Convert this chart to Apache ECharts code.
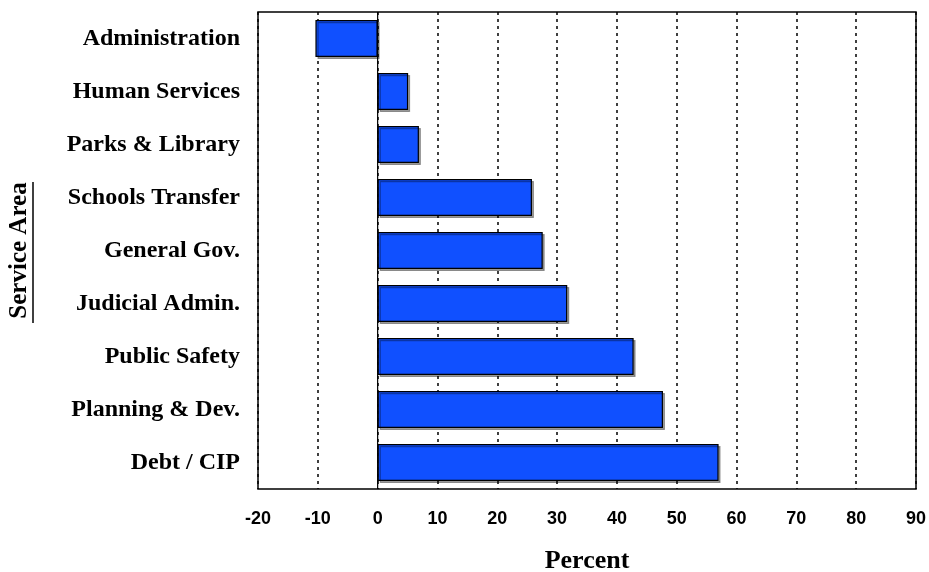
<!DOCTYPE html>
<html>
<head>
<meta charset="utf-8">
<script src="https://cdn.jsdelivr.net/npm/echarts@6/dist/echarts.min.js"></script>
<style>html,body{margin:0;padding:0;background:#fff;}#c{width:929px;height:572px;}</style>
</head>
<body>
<div id="c"></div>
<script>
const categories = ['Administration','Human Services','Parks & Library','Schools Transfer','General Gov.','Judicial Admin.','Public Safety','Planning & Dev.','Debt / CIP'];
const values = [-10.4, 5.1, 6.9, 25.8, 27.6, 31.7, 42.8, 47.7, 57.0];
const xMin = -20, xMax = 90, xStep = 10;
const zeroLine = [0];

const chart = echarts.init(document.getElementById('c'), null, {renderer:'canvas'});
chart.setOption({
  backgroundColor: '#fff',
  animation: false,
  grid: {left: 258, top: 12, right: 13, bottom: 83, show: true, borderColor: '#000', borderWidth: 1.5, outerBoundsMode: 'none', containLabel: false},
  xAxis: {
    type: 'value', min: xMin, max: xMax, interval: xStep,
    axisLine: {show: false}, axisTick: {show: false},
    splitLine: {show: true, lineStyle: {color: '#000', width: 1.5, type: [3, 4]}},
    axisLabel: {color: '#000', fontFamily: 'Liberation Sans, Arial', fontWeight: 'bold', fontSize: 18, margin: 21},
    name: 'Percent', nameLocation: 'middle', nameGap: 59,
    nameTextStyle: {color: '#000', fontFamily: 'Liberation Serif, Times New Roman', fontWeight: 'bold', fontSize: 26}
  },
  yAxis: {
    type: 'category', data: categories, inverse: true,
    axisLine: {show: false}, axisTick: {show: false},
    axisLabel: {color: '#000', fontFamily: 'Liberation Serif, Times New Roman', fontWeight: 'bold', fontSize: 24, margin: 18},
    name: 'Service Area', nameLocation: 'middle', nameGap: 226, nameRotate: 90,
    nameTextStyle: {color: '#000', fontFamily: 'Liberation Serif, Times New Roman', fontWeight: 'bold', fontSize: 25}
  },
  series: [{
    type: 'custom', z: 1, silent: true,
    data: zeroLine.map(v => [v, 0]),
    renderItem: function (params, api) {
      const cs = params.coordSys;
      const x = api.coord([api.value(0), 0])[0];
      return {type: 'line', shape: {x1: x, y1: cs.y, x2: x, y2: cs.y + cs.height},
        style: {stroke: '#000', lineWidth: 1.2}};
    }
  }, {
    type: 'bar', data: values, barCategoryGap: '30%', z: 2,
    itemStyle: {color: '#1050FF', borderColor: '#000', borderWidth: 1.2,
      shadowColor: 'rgba(0,0,0,0.35)', shadowOffsetX: 2, shadowOffsetY: 2, shadowBlur: 0}
  }],
  graphic: [{type: 'line', shape: {x1: 33, y1: 182, x2: 33, y2: 323}, style: {stroke: '#000', lineWidth: 1.5}}]
});
</script>
</body>
</html>
